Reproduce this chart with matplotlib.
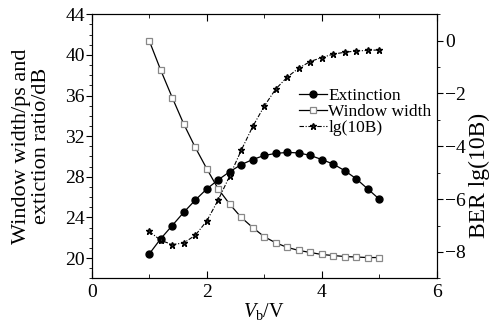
import matplotlib
matplotlib.use("Agg")
import matplotlib.pyplot as plt
from matplotlib.ticker import MultipleLocator

plt.rcParams["font.family"] = "serif"
plt.rcParams["font.serif"] = ["Liberation Serif", "DejaVu Serif"]
plt.rcParams["mathtext.fontset"] = "custom"
plt.rcParams["mathtext.rm"] = "Liberation Serif"
plt.rcParams["mathtext.it"] = "Liberation Serif:italic"

# bias voltage V_b (V)
vb = [1.0, 1.2, 1.4, 1.6, 1.8, 2.0, 2.2, 2.4, 2.6, 2.8, 3.0,
      3.2, 3.4, 3.6, 3.8, 4.0, 4.2, 4.4, 4.6, 4.8, 5.0]
# extinction ratio (dB), left axis
extinction = [20.4, 21.9, 23.2, 24.5, 25.7, 26.8, 27.7, 28.5, 29.2, 29.7, 30.1,
              30.3, 30.4, 30.35, 30.1, 29.7, 29.25, 28.6, 27.8, 26.8, 25.8]
# window width (ps), left axis
window = [41.4, 38.5, 35.8, 33.2, 30.9, 28.8, 26.8, 25.3, 24.0, 23.0, 22.1,
          21.5, 21.05, 20.75, 20.55, 20.35, 20.25, 20.15, 20.1, 20.05, 20.05]
# BER lg(10B), right axis
lg_ber = [-7.22, -7.56, -7.72, -7.66, -7.37, -6.83, -6.03, -5.12, -4.15, -3.25, -2.48,
          -1.83, -1.38, -1.04, -0.79, -0.64, -0.51, -0.44, -0.39, -0.37, -0.35]

fig = plt.figure(figsize=(4.93, 3.31), dpi=100)
ax = fig.add_axes([0.186, 0.159, 0.700, 0.798])
ax2 = ax.twinx()

l1, = ax.plot(vb, extinction, "-", color="black", lw=0.9, marker="o",
              ms=5, mfc="black", mec="black", label="Extinction")
l2, = ax.plot(vb, window, "-", color="black", lw=0.9, marker="s",
              ms=4.5, mfc="white", mec="#888888", mew=0.9, label="Window width")
l3, = ax2.plot(vb, lg_ber, color="black", lw=0.8, ls=(0, (4, 1.5, 1, 1.5)),
               marker="*", ms=5, mfc="#333333", mec="black", label="lg(10B)")

ax.set_xlim(0, 6)
ax.set_ylim(18, 44)
ax2.set_ylim(-9, 1)

ax.xaxis.set_major_locator(MultipleLocator(2))
ax.xaxis.set_minor_locator(MultipleLocator(1))
ax.yaxis.set_major_locator(MultipleLocator(4))
ax.yaxis.set_minor_locator(MultipleLocator(1))
ax2.yaxis.set_major_locator(MultipleLocator(2))
ax2.yaxis.set_minor_locator(MultipleLocator(1))

ax.tick_params(axis="x", which="both", direction="in", top=True, labelsize=14, pad=4)
ax.tick_params(axis="x", which="major", length=5)
ax.tick_params(axis="x", which="minor", length=3)
ax.tick_params(axis="y", which="both", direction="out", labelsize=14, pad=1)
ax.tick_params(axis="y", which="major", length=4)
ax.tick_params(axis="y", which="minor", length=2.5)
ax2.tick_params(axis="y", which="both", direction="out", labelsize=14, pad=2)
ax2.tick_params(axis="y", which="major", length=4)
ax2.tick_params(axis="y", which="minor", length=2.5)

ax.set_xlabel("$V_{\\rm b}$/V", fontsize=14.5, labelpad=0)
ax.set_ylabel("Window width/ps and\nextiction ratio/dB", fontsize=16,
              linespacing=1.1, labelpad=10)
ax2.set_ylabel("BER lg(10B)", fontsize=17)
ax2.yaxis.set_label_coords(1.094, 0.39)

ax.legend(handles=[l1, l2, l3], loc="upper left", bbox_to_anchor=(0.6, 0.722),
          frameon=False, fontsize=12.5, handlelength=1.6, handletextpad=0.1,
          labelspacing=0.0, borderpad=0, borderaxespad=0)

fig.savefig("out.png", dpi=100)
